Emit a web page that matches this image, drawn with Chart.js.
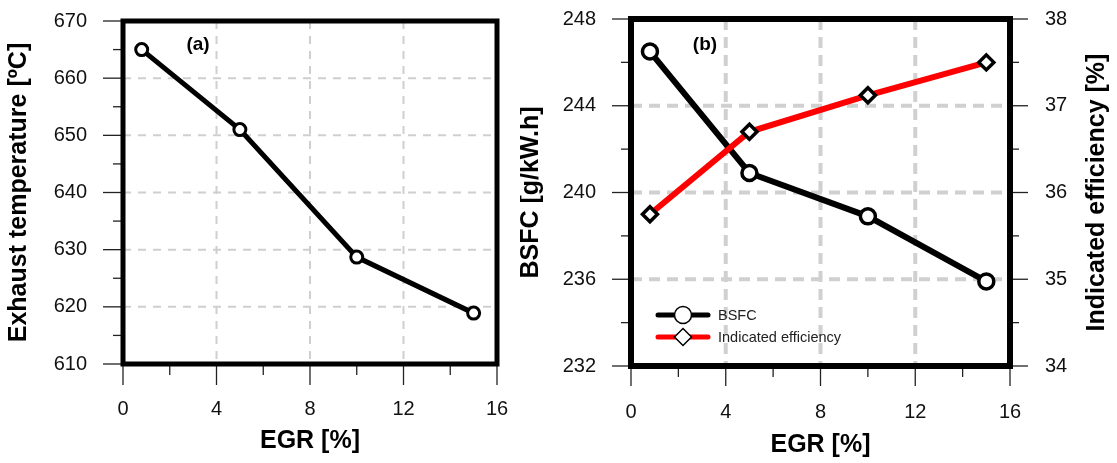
<!DOCTYPE html>
<html>
<head>
<meta charset="utf-8">
<script src="https://cdn.jsdelivr.net/npm/chart.js@4/dist/chart.umd.min.js"></script>
<style>
  html, body { margin: 0; padding: 0; background: #fff; }
  #wrap { position: relative; width: 1117px; height: 463px; }
  #chartA { position: absolute; left: 0; top: 0; }
  #chartB { position: absolute; left: 520px; top: 0; }
</style>
</head>
<body>
<div id="wrap">
  <canvas id="chartA" width="520" height="463"></canvas>
  <canvas id="chartB" width="597" height="463"></canvas>
</div>
<script>
// EGR rate [%] of the four test points
const egr = [0.8, 5, 10, 15];
// (a) exhaust gas temperature [ºC]
const exhaustTemp = [665, 651, 628.7, 618.9];
// (b) brake specific fuel consumption [g/kW.h] and indicated efficiency [%]
const bsfc = [246.5, 240.9, 238.9, 235.9];
const indicatedEff = [35.75, 36.7, 37.12, 37.5];

// axis ticks
const egrTicks = [0, 4, 8, 12, 16];
const tempTicks = [610, 620, 630, 640, 650, 660, 670];
const bsfcTicks = [232, 236, 240, 244, 248];
const effTicks = [34, 35, 36, 37, 38];

const FONT = "'Liberation Sans', Arial, sans-serif";

function midpoints(arr) {
  const out = [];
  for (let i = 0; i < arr.length - 1; i++) out.push((arr[i] + arr[i + 1]) / 2);
  return out;
}

function pts(xs, ys) {
  return xs.map((x, i) => ({ x: x, y: ys[i] }));
}

function seg(ctx, x1, y1, x2, y2) {
  ctx.beginPath();
  ctx.moveTo(x1, y1);
  ctx.lineTo(x2, y2);
  ctx.stroke();
}

// frame, grid, ticks and labels drawn around the scales
const panelPlugin = {
  id: 'panel',
  beforeDatasetsDraw(chart, args, o) {
    const ctx = chart.ctx, a = chart.chartArea;
    ctx.save();
    ctx.strokeStyle = o.gridColor;
    ctx.lineWidth = o.gridWidth;
    ctx.setLineDash(o.gridDash);
    o.xGrid.forEach(v => {
      const px = chart.scales.x.getPixelForValue(v);
      seg(ctx, px, a.top, px, a.bottom);
    });
    o.yGrid.forEach(v => {
      const py = chart.scales.y.getPixelForValue(v);
      seg(ctx, a.left, py, a.right, py);
    });
    ctx.restore();
  },
  afterDatasetsDraw(chart, args, o) {
    const ctx = chart.ctx, a = chart.chartArea;
    ctx.save();

    // tick marks
    ctx.strokeStyle = '#222';
    ctx.lineWidth = 1.3;
    o.axes.forEach(ax => {
      const sc = chart.scales[ax.id];
      const draw = (v, len) => {
        const p = sc.getPixelForValue(v);
        if (ax.side === 'bottom') seg(ctx, p, a.bottom, p, a.bottom + len);
        else if (ax.side === 'left') seg(ctx, a.left - len, p, a.left, p);
        else seg(ctx, a.right, p, a.right + len, p);
      };
      ax.ticks.forEach(v => draw(v, ax.major));
      midpoints(ax.ticks).forEach(v => draw(v, ax.minor));
    });

    // frame
    ctx.strokeStyle = '#000';
    ctx.lineWidth = o.frameWidth;
    ctx.strokeRect(a.left, a.top, a.right - a.left, a.bottom - a.top);

    // tick labels
    ctx.fillStyle = '#111';
    ctx.font = '20px ' + FONT;
    o.axes.forEach(ax => {
      const sc = chart.scales[ax.id];
      ax.ticks.forEach(v => {
        const p = sc.getPixelForValue(v);
        if (ax.side === 'bottom') {
          ctx.textAlign = 'center'; ctx.textBaseline = 'middle';
          ctx.fillText(String(v), p, a.bottom + ax.labelOffset);
        } else if (ax.side === 'left') {
          ctx.textAlign = 'right'; ctx.textBaseline = 'middle';
          ctx.fillText(String(v), a.left - ax.labelOffset, p);
        } else {
          ctx.textAlign = 'left'; ctx.textBaseline = 'middle';
          ctx.fillText(String(v), a.right + ax.labelOffset, p);
        }
      });
    });

    // axis titles
    ctx.fillStyle = '#000';
    ctx.font = 'bold 25px ' + FONT;
    const cy = (a.top + a.bottom) / 2;
    o.axes.forEach(ax => {
      ctx.textAlign = 'center'; ctx.textBaseline = 'middle';
      if (ax.side === 'bottom') {
        ctx.fillText(ax.title, (a.left + a.right) / 2, a.bottom + ax.titleOffset);
      } else {
        const tx = ax.side === 'left' ? a.left - ax.titleOffset : a.right + ax.titleOffset;
        ctx.save();
        ctx.translate(tx, cy);
        ctx.rotate(-Math.PI / 2);
        ctx.fillText(ax.title, 0, 0);
        ctx.restore();
      }
    });

    // panel tag
    ctx.font = 'bold 19px ' + FONT;
    ctx.fillText(o.tag, a.left + o.tagX, a.top + o.tagY);

    // legend inside plot
    if (o.legend) {
      const lg = o.legend;
      chart.data.datasets.forEach((ds, i) => {
        const y = a.top + lg.y + i * lg.rowGap;
        const x0 = a.left + lg.x;
        ctx.strokeStyle = ds.borderColor;
        ctx.lineWidth = 5;
        ctx.lineCap = 'round';
        seg(ctx, x0, y, x0 + lg.lineLen, y);
        ctx.lineCap = 'butt';
        const mx = x0 + lg.lineLen / 2;
        ctx.fillStyle = '#fff';
        ctx.strokeStyle = '#000';
        ctx.lineWidth = 1.5;
        ctx.beginPath();
        if (ds.pointStyle === 'rectRot') {
          ctx.moveTo(mx, y - 8.5); ctx.lineTo(mx + 8.5, y);
          ctx.lineTo(mx, y + 8.5); ctx.lineTo(mx - 8.5, y);
          ctx.closePath();
        } else {
          ctx.arc(mx, y, 8.5, 0, Math.PI * 2);
        }
        ctx.fill();
        ctx.stroke();
        ctx.fillStyle = '#222';
        ctx.font = '14.5px ' + FONT;
        ctx.textAlign = 'left'; ctx.textBaseline = 'middle';
        ctx.fillText(ds.label, x0 + lg.lineLen + 10, y + 1);
      });
    }
    ctx.restore();
  }
};

// (a) exhaust temperature
new Chart(document.getElementById('chartA'), {
  type: 'line',
  data: {
    datasets: [{
      label: 'Exhaust temperature',
      data: pts(egr, exhaustTemp),
      borderColor: '#000',
      borderWidth: 5,
      pointRadius: 6,
      pointBorderWidth: 3,
      pointBackgroundColor: '#fff',
      pointBorderColor: '#000',
      tension: 0,
      clip: false
    }]
  },
  options: {
    responsive: false,
    devicePixelRatio: 1,
    animation: false,
    layout: { padding: { left: 123, right: 23, top: 21, bottom: 99 } },
    scales: {
      x: { type: 'linear', min: 0, max: 16, display: false },
      y: { type: 'linear', min: 610, max: 670, display: false }
    },
    plugins: {
      legend: { display: false },
      tooltip: { enabled: false },
      panel: {
        gridColor: '#cfcfcf',
        gridWidth: 2,
        gridDash: [8, 7],
        xGrid: [4, 8, 12],
        yGrid: [620, 630, 640, 650, 660],
        frameWidth: 5,
        tag: '(a)', tagX: 75, tagY: 24,
        axes: [
          { id: 'x', side: 'bottom', ticks: egrTicks, major: 21, minor: 11, labelOffset: 45, title: 'EGR [%]', titleOffset: 77 },
          { id: 'y', side: 'left', ticks: tempTicks, major: 20, minor: 10, labelOffset: 36, title: 'Exhaust temperature [ºC]', titleOffset: 104 }
        ]
      }
    }
  },
  plugins: [panelPlugin]
});

// (b) BSFC and indicated efficiency
new Chart(document.getElementById('chartB'), {
  type: 'line',
  data: {
    datasets: [{
      label: 'BSFC',
      data: pts(egr, bsfc),
      yAxisID: 'y',
      order: 2,
      borderColor: '#000',
      borderWidth: 6,
      pointStyle: 'circle',
      pointRadius: 7.5,
      pointBorderWidth: 3.5,
      pointBackgroundColor: '#fff',
      pointBorderColor: '#000',
      tension: 0,
      clip: false
    }, {
      label: 'Indicated efficiency',
      data: pts(egr, indicatedEff),
      yAxisID: 'y2',
      order: 1,
      borderColor: '#ff0000',
      borderWidth: 6,
      pointStyle: 'rectRot',
      pointRadius: 7.5,
      pointBorderWidth: 3.5,
      pointBackgroundColor: '#fff',
      pointBorderColor: '#000',
      tension: 0,
      clip: false
    }]
  },
  options: {
    responsive: false,
    devicePixelRatio: 1,
    animation: false,
    layout: { padding: { left: 111, right: 107, top: 19, bottom: 97 } },
    scales: {
      x: { type: 'linear', min: 0, max: 16, display: false },
      y: { type: 'linear', min: 232, max: 248, display: false },
      y2: { type: 'linear', min: 34, max: 38, display: false }
    },
    plugins: {
      legend: { display: false },
      tooltip: { enabled: false },
      panel: {
        gridColor: '#d0d0d0',
        gridWidth: 4,
        gridDash: [11, 7],
        xGrid: [4, 8, 12],
        yGrid: [236, 240, 244],
        frameWidth: 6,
        tag: '(b)', tagX: 74, tagY: 26,
        legend: { x: 27, y: 296, rowGap: 22, lineLen: 50 },
        axes: [
          { id: 'x', side: 'bottom', ticks: egrTicks, major: 20, minor: 11, labelOffset: 46, title: 'EGR [%]', titleOffset: 79 },
          { id: 'y', side: 'left', ticks: bsfcTicks, major: 19, minor: 10, labelOffset: 35, title: 'BSFC [g/kW.h]', titleOffset: 100 },
          { id: 'y2', side: 'right', ticks: effTicks, major: 18, minor: 9, labelOffset: 35, title: 'Indicated efficiency [%]', titleOffset: 87 }
        ]
      }
    }
  },
  plugins: [panelPlugin]
});
</script>
</body>
</html>
